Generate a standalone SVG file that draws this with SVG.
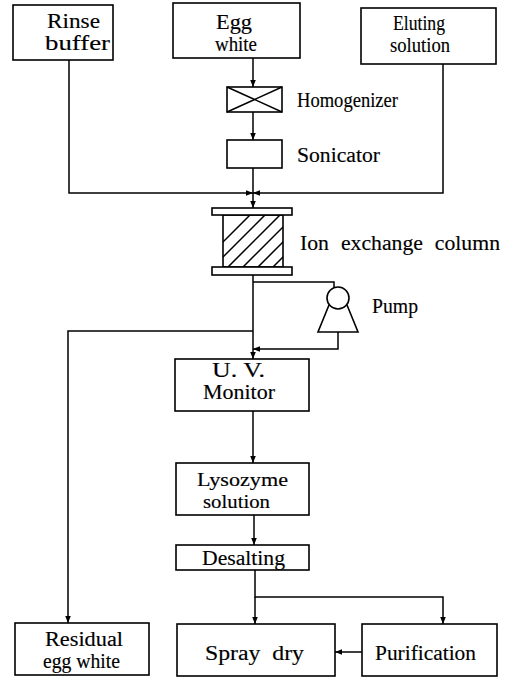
<svg xmlns="http://www.w3.org/2000/svg" width="509" height="681" viewBox="0 0 509 681">
<defs>
<style>
.b{fill:#fff;stroke:#000;stroke-width:1.6}
.l{fill:none;stroke:#000;stroke-width:1.5}
text{font-family:'Liberation Serif','DejaVu Serif','Times New Roman',serif;font-size:20px;fill:#000;stroke:#000;stroke-width:0.15;text-anchor:start}
text.m{font-size:18px}
</style>
<marker id="a" viewBox="0 0 10 10" refX="10" refY="5" markerWidth="7" markerHeight="7" orient="auto" markerUnits="userSpaceOnUse">
<path d="M0,1 L10,5 L0,9 Z" fill="#000"/>
</marker>
<clipPath id="cc"><rect x="223" y="215" width="60" height="52"/></clipPath>
</defs>
<rect width="509" height="681" fill="#fff"/>
<g id="connectors">
<path class="l" d="M253,58 V87" marker-end="url(#a)"/>
<path class="l" d="M253,112 V140" marker-end="url(#a)"/>
<path class="l" d="M253,168 V193"/>
<path class="l" d="M69,60 V193 H253" marker-end="url(#a)"/>
<path class="l" d="M443,64 V193 H253" marker-end="url(#a)"/>
<path class="l" d="M253,193 V208" marker-end="url(#a)"/>
<path class="l" d="M253,275 V359" marker-end="url(#a)"/>
<path class="l" d="M253,282 H334 V287"/>
<path class="l" d="M338,332 V349 H253" marker-end="url(#a)"/>
<path class="l" d="M253,331 H68 V623" marker-end="url(#a)"/>
<path class="l" d="M253,411 V463" marker-end="url(#a)"/>
<path class="l" d="M254,515 V545" marker-end="url(#a)"/>
<path class="l" d="M255,570 V597 H443 V624" marker-end="url(#a)"/>
<path class="l" d="M255,597 V624" marker-end="url(#a)"/>
<path class="l" d="M362,652 H335" marker-end="url(#a)"/>
</g>
<g id="rinse"><rect class="b" x="13" y="5" width="100" height="55"/><text x="47" y="28" textLength="53" lengthAdjust="spacingAndGlyphs">Rinse</text><text x="45" y="50" textLength="65" lengthAdjust="spacingAndGlyphs">buffer</text></g>
<g id="egg"><rect class="b" x="173" y="3" width="127" height="55"/><text x="216" y="29" textLength="36" lengthAdjust="spacingAndGlyphs">Egg</text><text x="215" y="51" textLength="42" lengthAdjust="spacingAndGlyphs">white</text></g>
<g id="eluting"><rect class="b" x="361" y="8" width="135" height="56"/><text x="393" y="30" textLength="52" lengthAdjust="spacingAndGlyphs">Eluting</text><text x="390" y="52" textLength="60" lengthAdjust="spacingAndGlyphs">solution</text></g>
<g id="homogenizer"><rect class="b" x="227" y="87" width="55" height="25"/><path class="l" d="M227,87 L282,112 M227,112 L282,87"/><text x="297" y="107" textLength="101" lengthAdjust="spacingAndGlyphs">Homogenizer</text></g>
<g id="sonicator"><rect class="b" x="227" y="140" width="55" height="28"/><text x="297" y="162" textLength="83" lengthAdjust="spacingAndGlyphs">Sonicator</text></g>
<g id="column">
<rect class="b" x="223" y="215" width="60" height="52"/>
<g clip-path="url(#cc)"><path class="l" d="M213,267 L265,215 M228,267 L280,215 M243,267 L295,215 M258,267 L310,215 M198,267 L250,215 M273,267 L325,215"/></g>
<rect class="b" x="212" y="208" width="80" height="7"/>
<rect class="b" x="212" y="267" width="80" height="8"/>
<text x="300" y="250" style="word-spacing:6px" textLength="200" lengthAdjust="spacingAndGlyphs">Ion exchange column</text>
</g>
<g id="pump"><path class="b" d="M329,305 L318,332 H358 L347,305"/><circle class="b" cx="338" cy="298" r="11"/><text x="372" y="313" textLength="46" lengthAdjust="spacingAndGlyphs">Pump</text></g>
<g id="uv"><rect class="b" x="175" y="359" width="134" height="52"/><text x="212" y="377" textLength="53" lengthAdjust="spacingAndGlyphs">U. V.</text><text x="203" y="399" textLength="72" lengthAdjust="spacingAndGlyphs">Monitor</text></g>
<g id="lysozyme"><rect class="b" x="176" y="463" width="133" height="52"/><text class="m" x="197" y="486" textLength="91" lengthAdjust="spacingAndGlyphs">Lysozyme</text><text class="m" x="203" y="508" textLength="67" lengthAdjust="spacingAndGlyphs">solution</text></g>
<g id="desalting"><rect class="b" x="176" y="545" width="133" height="25"/><text x="202" y="565" textLength="83" lengthAdjust="spacingAndGlyphs">Desalting</text></g>
<g id="residual"><rect class="b" x="15" y="623" width="134" height="52"/><text x="45" y="646" textLength="78" lengthAdjust="spacingAndGlyphs">Residual</text><text x="43" y="668" textLength="77" lengthAdjust="spacingAndGlyphs">egg white</text></g>
<g id="spray"><rect class="b" x="177" y="624" width="158" height="52"/><text x="205" y="660" style="word-spacing:5px" textLength="99" lengthAdjust="spacingAndGlyphs">Spray dry</text></g>
<g id="purification"><rect class="b" x="362" y="624" width="135" height="52"/><text x="375" y="660" textLength="101" lengthAdjust="spacingAndGlyphs">Purification</text></g>
</svg>
